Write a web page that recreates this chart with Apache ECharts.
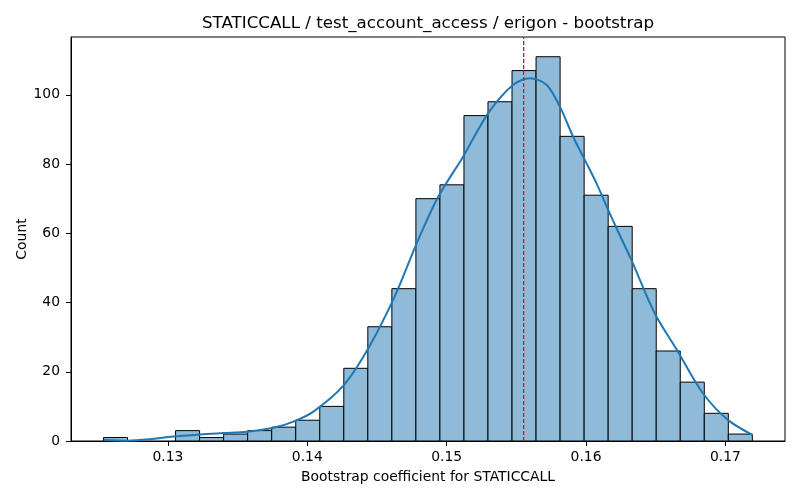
<!DOCTYPE html>
<html>
<head>
<meta charset="utf-8">
<title>STATICCALL bootstrap</title>
<script src="https://cdn.jsdelivr.net/npm/echarts@6/dist/echarts.min.js"></script>
<style>
    html, body { margin: 0; padding: 0; background: #fff; }
    #chartDiv { width: 800px; height: 500px; }
</style>
</head>
<body>
<div id="chartDiv"></div>
<script>
// histogram bins
var binStart = 0.12538;
var binWidth = 0.001724;
var binCounts = [1, 0, 0, 3, 1, 2, 3, 4, 6, 10, 21, 33, 44, 70, 74, 94, 98, 107, 111, 88, 71, 62, 44, 26, 17, 8, 2];

// kde curve
var kdeX = [0.12540, 0.12708, 0.12870, 0.13018, 0.13233, 0.13398, 0.13567, 0.13758, 0.13901, 0.14044,
    0.14259, 0.14438, 0.14630, 0.14785, 0.14940, 0.15119, 0.15298, 0.15477, 0.15597, 0.15716,
    0.15812, 0.15907, 0.15991, 0.16074, 0.16158, 0.16241, 0.16325, 0.16492, 0.16659, 0.16838,
    0.17017, 0.17196];
var kdeY = [0.3, 0.1, 0.5, 1.2, 1.9, 2.3, 2.7, 3.8, 5.6, 8.5,
    16.0, 26.8, 42.0, 57.1, 70.6, 82.2, 94.7, 102.9, 104.8, 102.9,
    96.6, 87.9, 81.2, 74.5, 66.8, 59.5, 52.3, 36.9, 25.8, 13.8,
    6.1, 1.7];

var meanValue = 0.15552;
var xTicks = [0.13, 0.14, 0.15, 0.16, 0.17];
var titleText = 'STATICCALL / test_account_access / erigon - bootstrap';

var chartDiv = echarts.init(document.getElementById('chartDiv'));

var binData = [];
for (var i = 0; i < binCounts.length; i++) {
    binData.push([binStart + i * binWidth, binStart + (i + 1) * binWidth, binCounts[i]]);
}
var kdeData = [];
for (var j = 0; j < kdeX.length; j++) {
    kdeData.push([kdeX[j], kdeY[j]]);
}

var fontName = 'DejaVu Sans';
var option = {
    animation: false,
    title: {
        text: titleText,
        left: 423,
        textAlign: 'center',
        top: 10,
        textStyle: {fontFamily: fontName, fontSize: 16.7, fontWeight: 'normal', color: '#000'}
    },
    grid: {
        left: 71, right: 15, top: 37, bottom: 59,
        show: true, borderColor: '#000', borderWidth: 1, backgroundColor: 'transparent'
    },
    xAxis: {
        type: 'value',
        min: 0.12305,
        max: 0.17427,
        name: 'Bootstrap coefficient for STATICCALL',
        nameLocation: 'middle',
        nameGap: 29,
        nameTextStyle: {fontFamily: fontName, fontSize: 13.9, color: '#000'},
        axisLine: {show: true, onZero: false, lineStyle: {color: '#000', width: 1}},
        axisTick: {show: true, length: 5, customValues: xTicks, lineStyle: {color: '#000'}},
        axisLabel: {
            customValues: xTicks, margin: 9,
            fontFamily: fontName, fontSize: 13.9, color: '#000',
            formatter: function (v) { return v.toFixed(2); }
        },
        splitLine: {show: false}
    },
    yAxis: {
        type: 'value',
        min: 0,
        max: 116.7,
        interval: 20,
        name: 'Count',
        nameLocation: 'middle',
        nameGap: 42,
        nameMoveOverlap: false,
        nameTextStyle: {fontFamily: fontName, fontSize: 13.9, color: '#000'},
        axisLine: {show: true, lineStyle: {color: '#000', width: 1}},
        axisTick: {show: true, length: 5, lineStyle: {color: '#000'}},
        axisLabel: {showMaxLabel: false, margin: 11, fontFamily: fontName, fontSize: 13.9, color: '#000'},
        splitLine: {show: false}
    },
    series: [
        {
            type: 'custom',
            name: 'bins',
            data: binData,
            encode: {x: [0, 1], y: 2},
            renderItem: function (params, api) {
                var p0 = api.coord([api.value(0), 0]);
                var p1 = api.coord([api.value(1), api.value(2)]);
                if (api.value(2) <= 0) return null;
                return {
                    type: 'rect',
                    shape: {x: p0[0], y: p1[1], width: p1[0] - p0[0], height: p0[1] - p1[1]},
                    style: {fill: '#8fbbd9', stroke: '#000', lineWidth: 1}
                };
            },
            z: 2
        },
        {
            type: 'line',
            name: 'kde',
            data: kdeData,
            smooth: 0.3,
            showSymbol: false,
            lineStyle: {color: '#1f77b4', width: 2},
            z: 3
        },
        {
            type: 'line',
            name: 'mean',
            data: [[meanValue, 0], [meanValue, 116.7]],
            showSymbol: false,
            lineStyle: {color: '#ff0000', width: 1.3, type: [4, 2]},
            z: 4
        }
    ]
};
chartDiv.setOption(option);
</script>
</body>
</html>
